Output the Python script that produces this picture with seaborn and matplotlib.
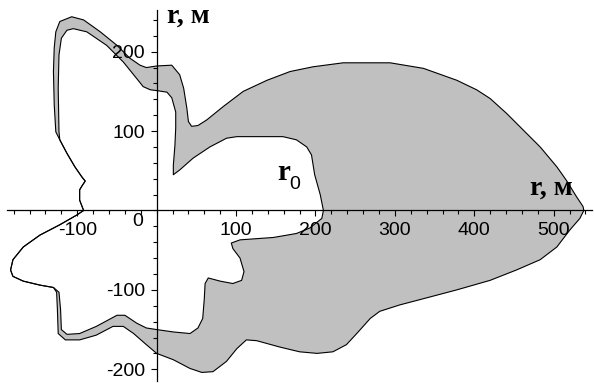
import numpy as np
import pandas as pd
import matplotlib
matplotlib.use("Agg")
import matplotlib.pyplot as plt
from matplotlib.ticker import FixedLocator
import seaborn as sns

# ---- data (metres) ----
outer_upper_x = [538, 537, 529, 516, 504, 483, 462, 441, 420, 403, 378, 336, 294, 235, 197, 168, 139, 109, 84, 63,
                 52, 44, 40, 38, 34, 29, 19, 0, -13, -21, -34, -50, -71, -92, -107, -122, -127, -129, -130, -129, -127]
outer_upper_y = [0, 5, 17, 38, 55, 80, 101, 122, 141, 152, 164, 179, 186, 186, 181, 175, 164, 150, 131, 114,
                 107, 106, 112, 129, 154, 171, 183, 182, 180, 183, 192, 208, 225, 240, 244, 238, 225, 205, 175, 133, 99]

shared_x = [-122, -113, -103, -94, -90, -94, -97, -97, -92, -101, -122, -147, -168, -181, -184, -181, -168, -147, -130]
shared_y = [89, 72, 55, 42, 37, 31, 26, 13, 0, -6, -18, -31, -46, -62, -75, -83, -89, -94, -97]

outer_lower_x = [-126, -125, -124, -115, -97, -76, -55, -42, -29, -13, 0, 21, 42, 57, 71, 88, 101, 113, 126, 155,
                 180, 202, 222, 239, 252, 269, 281, 306, 344, 378, 420, 453, 483, 504, 520, 533]
outer_lower_y = [-103, -125, -155, -163, -163, -157, -146, -146, -155, -169, -180, -188, -199, -204, -203, -190, -174,
                 -163, -164, -172, -178, -180, -178, -169, -155, -136, -127, -119, -109, -100, -88, -75, -62, -46, -25, -10]

inner_upper_x = [210, 206, 199, 195, 189, 176, 159, 101, 88, 67, 46, 29, 21, 21, 23, 24, 24, 19, 13, 0,
                 -8, -17, -25, -42, -63, -88, -105, -113, -120, -123, -124, -123]
inner_upper_y = [0, 20, 45, 70, 80, 89, 93, 93, 91, 80, 66, 51, 45, 57, 82, 104, 124, 142, 149, 151,
                 152, 156, 166, 187, 208, 225, 229, 227, 217, 196, 154, 99]

inner_lower_x = [-123, -121, -120, -113, -97, -76, -50, -40, -25, -13, 0, 21, 42, 52, 58, 60, 61, 65, 80, 96,
                 107, 110, 105, 96, 94, 105, 147, 176, 193, 208]
inner_lower_y = [-103, -125, -150, -156, -155, -146, -132, -132, -142, -148, -150, -153, -155, -148, -136, -111,
                 -92, -85, -89, -92, -88, -77, -60, -48, -41, -37, -34, -29, -22, -10]

x_ticks = [-100, 100, 200, 300, 400, 500]
y_ticks = [-200, -100, 100, 200]
axis_label = "r, м"

# ---- assemble closed curves ----
outer_x = outer_upper_x + shared_x + outer_lower_x + outer_upper_x[:1]
outer_y = outer_upper_y + shared_y + outer_lower_y + outer_upper_y[:1]
inner_x = inner_upper_x + shared_x + inner_lower_x + inner_upper_x[:1]
inner_y = inner_upper_y + shared_y + inner_lower_y + inner_upper_y[:1]
outer_df = pd.DataFrame({"x": outer_x, "y": outer_y})
inner_df = pd.DataFrame({"x": inner_x, "y": inner_y})

sns.set_theme(style="white")
plt.rcParams["font.family"] = ["Liberation Sans", "DejaVu Sans"]
plt.rcParams["axes.unicode_minus"] = False

fig = plt.figure(figsize=(5.94, 3.83), dpi=100)
ax = fig.add_axes([0, 0, 1, 1])
ax.set_facecolor("white")
ax.set_axisbelow(False)

ax.fill(outer_df["x"], outer_df["y"], color="#c0c0c0", lw=0, zorder=1)
ax.fill(inner_df["x"], inner_df["y"], color="white", lw=0, zorder=1.1)
sns.lineplot(data=outer_df, x="x", y="y", sort=False, estimator=None, color="black", lw=0.8, ax=ax, zorder=2)
sns.lineplot(data=inner_df, x="x", y="y", sort=False, estimator=None, color="black", lw=0.8, ax=ax, zorder=2)

ax.set_xlim(-197.3, 550.8)
ax.set_ylim(-217.3, 265.1)
ax.set_xlabel("")
ax.set_ylabel("")

for side in ["top", "right"]:
    ax.spines[side].set_visible(False)
ax.spines["left"].set_position(("data", 0))
ax.spines["bottom"].set_position(("data", 0))
ax.spines["bottom"].set_bounds(-189, 548)
ax.spines["left"].set_bounds(-215, 252)
for side in ["left", "bottom"]:
    ax.spines[side].set_color("black")
    ax.spines[side].set_linewidth(0.9)
    ax.spines[side].set_zorder(3)

ax.xaxis.set_major_locator(FixedLocator(x_ticks))
ax.yaxis.set_major_locator(FixedLocator(y_ticks))
ax.xaxis.set_minor_locator(FixedLocator(np.arange(-180, 541, 20)))
ax.yaxis.set_minor_locator(FixedLocator(np.arange(-200, 241, 20)))
ax.set_xticklabels([str(v) for v in x_ticks])
ax.set_yticklabels([str(v) for v in y_ticks])
ax.tick_params(which="both", direction="out", color="black", width=0.8,
               bottom=True, left=True, labelsize=14, labelcolor="black")
ax.tick_params(which="major", length=4.5)
ax.tick_params(which="minor", length=3)
ax.tick_params(axis="x", which="major", pad=4)
ax.tick_params(axis="y", which="major", pad=4)
ax.xaxis.set_zorder(3)
ax.yaxis.set_zorder(3)

ax.text(-23.4, -3, "0", fontsize=14, ha="center", va="top", color="black", zorder=4)

serif = ["Liberation Serif", "DejaVu Serif"]
ax.text(13, 236, axis_label, family=serif, fontweight="bold", fontsize=20, ha="left", va="baseline", color="black", zorder=4)
ax.text(470, 19.5, axis_label, family=serif, fontweight="bold", fontsize=20, ha="left", va="baseline", color="black", zorder=4)
ax.text(151.5, 38.4, "r", family=serif, fontweight="bold", fontsize=21, ha="left", va="baseline", color="black", zorder=4)
ax.text(167, 27, "0", fontsize=14, ha="left", va="baseline", color="black", zorder=4)

fig.savefig("out.png", dpi=100)
